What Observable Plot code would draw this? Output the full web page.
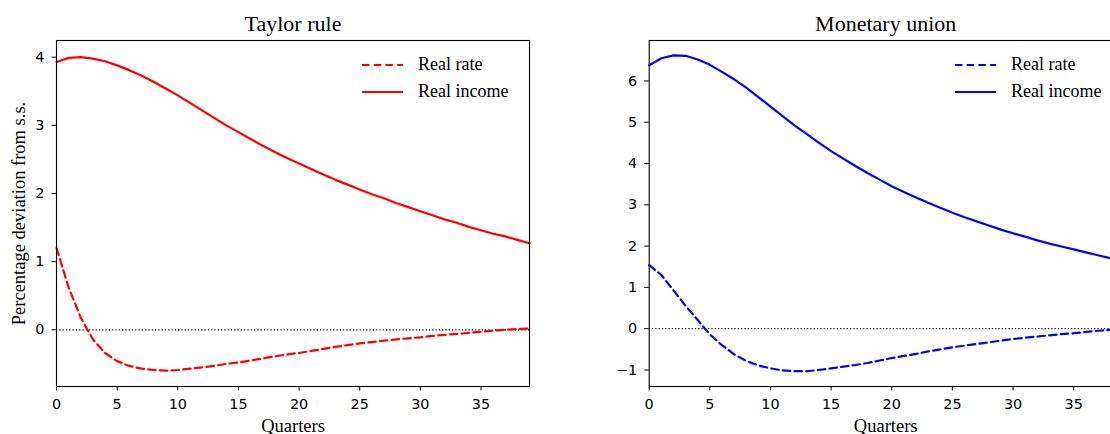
<!DOCTYPE html>
<html>
<head>
<meta charset="utf-8">
<script src="https://cdn.jsdelivr.net/npm/d3@7"></script>
<script src="https://cdn.jsdelivr.net/npm/@observablehq/plot@0.6"></script>
<style>
  html, body { margin: 0; padding: 0; background: #fff; overflow: hidden; }
  #wrap { position: relative; width: 1110px; height: 434px; overflow: hidden; background: #fff; }
  .panel { position: absolute; top: 0; }
  .legend { position: absolute; font-family: "Liberation Serif", "Times New Roman", serif; font-size: 18px; color: #000; }
  .legend .row { display: flex; align-items: center; height: 27px; white-space: nowrap; }
  .legend svg { display: block; margin-right: 15px; }
</style>
</head>
<body>
<div id="wrap"></div>
<script>
// ---- data ----
const quarters = [0,1,2,3,4,5,6,7,8,9,10,11,12,13,14,15,16,17,18,19,20,21,22,23,24,25,26,27,28,29,30,31,32,33,34,35,36,37,38,39];

const taylorIncome = [3.93,3.99,4.00,3.98,3.94,3.88,3.81,3.73,3.64,3.54,3.44,3.33,3.22,3.11,3.00,2.90,2.80,2.70,2.61,2.52,2.44,2.36,2.28,2.20,2.13,2.06,1.99,1.93,1.86,1.80,1.74,1.68,1.62,1.57,1.51,1.46,1.41,1.37,1.32,1.27];
const taylorRate = [1.20,0.62,0.18,-0.14,-0.34,-0.46,-0.53,-0.57,-0.59,-0.60,-0.59,-0.57,-0.55,-0.53,-0.50,-0.48,-0.45,-0.42,-0.39,-0.36,-0.34,-0.31,-0.28,-0.25,-0.225,-0.20,-0.18,-0.16,-0.14,-0.125,-0.11,-0.09,-0.075,-0.06,-0.045,-0.028,-0.013,0.0,0.012,0.02];

const unionIncome = [6.38,6.55,6.62,6.61,6.52,6.39,6.22,6.04,5.84,5.61,5.38,5.15,4.92,4.71,4.50,4.30,4.12,3.94,3.77,3.61,3.45,3.31,3.18,3.05,2.93,2.81,2.70,2.60,2.50,2.40,2.31,2.23,2.14,2.06,1.99,1.92,1.85,1.78,1.71,1.65];
const unionRate = [1.54,1.30,0.93,0.55,0.21,-0.14,-0.40,-0.62,-0.78,-0.89,-0.96,-1.01,-1.03,-1.03,-1.00,-0.96,-0.92,-0.88,-0.83,-0.77,-0.71,-0.66,-0.61,-0.55,-0.50,-0.45,-0.41,-0.37,-0.33,-0.29,-0.25,-0.22,-0.19,-0.16,-0.13,-0.11,-0.08,-0.05,-0.03,-0.01];

const xTicks = [0,5,10,15,20,25,30,35];
const taylorYTicks = [0,1,2,3,4];
const unionYTicks = [-1,0,1,2,3,4,5,6];
const titles = ["Taylor rule", "Monetary union"];
const xLabel = "Quarters";
const yLabel = "Percentage deviation from s.s.";
const seriesNames = ["Real rate", "Real income"];

// ---- drawing ----
const SERIF = "Liberation Serif, Times New Roman, serif";
const fmt = d => d < 0 ? "\u2212" + Math.abs(d) : String(d);

function panel({title, income, rate, color, yDomain, yTicks, width, marginLeft, marginRight, showYLabel}) {
  const data = quarters.map((q, i) => ({q, income: income[i], rate: rate[i]}));
  const marks = [
    Plot.ruleY([0], {stroke: "black", strokeWidth: 1.2, strokeDasharray: "1.2,2.1"}),
    Plot.line(data, {x: "q", y: "rate", stroke: color, strokeWidth: 2.2, strokeDasharray: "7.5,4.2"}),
    Plot.line(data, {x: "q", y: "income", stroke: color, strokeWidth: 2.2}),
    Plot.frame({stroke: "black", strokeWidth: 1.1}),
    Plot.text([title], {text: d => d, frameAnchor: "top", textAnchor: "middle", lineAnchor: "bottom", dy: -9.5, fontFamily: SERIF, fontSize: 22, fill: "black"}),
    Plot.text([xLabel], {text: d => d, frameAnchor: "bottom", textAnchor: "middle", lineAnchor: "bottom", dy: 45, fontFamily: SERIF, fontSize: 18.5, fill: "black"})
  ];
  if (showYLabel) {
    marks.push(Plot.text([yLabel], {text: d => d, frameAnchor: "left", textAnchor: "middle", rotate: -90, lineAnchor: "bottom", dx: -32, fontFamily: SERIF, fontSize: 18.5, fill: "black"}));
  }
  return Plot.plot({
    width, height: 434,
    marginTop: 40, marginBottom: 48, marginLeft, marginRight,
    style: {fontFamily: "DejaVu Sans", fontSize: "14.4px", color: "black", background: "white", overflow: "hidden"},
    x: {domain: [0, 39], ticks: xTicks, tickSize: 4.5, tickPadding: 8, label: null, tickFormat: fmt},
    y: {domain: yDomain, ticks: yTicks, tickSize: 4.5, tickPadding: 7.5, label: null, tickFormat: fmt},
    marks
  });
}

function legend(color, left, top) {
  const el = document.createElement("div");
  el.className = "legend";
  el.style.left = left + "px";
  el.style.top = top + "px";
  seriesNames.forEach((name, i) => {
    const row = document.createElement("div");
    row.className = "row";
    const dash = i === 0 ? ' stroke-dasharray="7.5,4.2"' : '';
    row.innerHTML = `<svg width="41" height="6"><line x1="0" x2="41" y1="3" y2="3" stroke="${color}" stroke-width="2.2"${dash}/></svg><span>${name}</span>`;
    el.appendChild(row);
  });
  return el;
}

const wrap = document.getElementById("wrap");

const left = panel({title: titles[0], income: taylorIncome, rate: taylorRate, color: "#ff0000",
  yDomain: [-0.832, 4.245], yTicks: taylorYTicks, width: 560, marginLeft: 56, marginRight: 31, showYLabel: true});
left.classList.add("panel");
left.style.left = "0px";
wrap.appendChild(left);

const right = panel({title: titles[1], income: unionIncome, rate: unionRate, color: "#0000ff",
  yDomain: [-1.40, 6.98], yTicks: unionYTicks, width: 550, marginLeft: 88.7, marginRight: -11.7, showYLabel: false});
right.classList.add("panel");
right.style.left = "560px";
wrap.appendChild(right);

wrap.appendChild(legend("#ff0000", 362, 51));
wrap.appendChild(legend("#0000ff", 955, 51));
</script>
</body>
</html>
